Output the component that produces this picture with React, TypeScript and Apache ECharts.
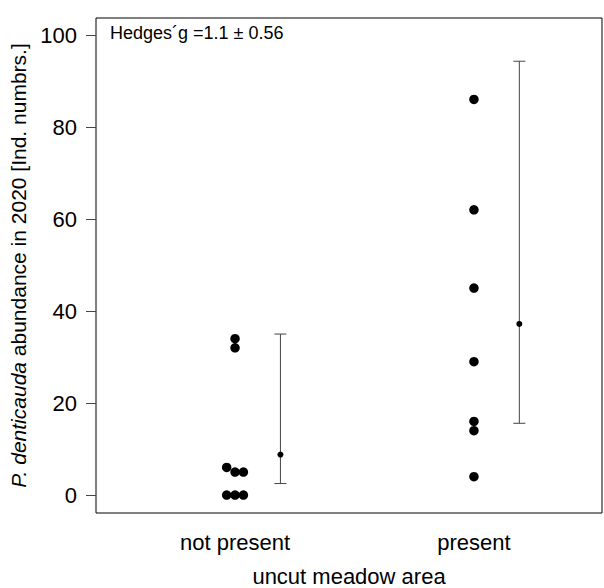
import React, { useEffect, useRef } from "react";
import * as echarts from "echarts";

const categories = ["not present", "present"];
const notPresentValues = [34, 32, 6, 5, 5, 0, 0, 0];
const notPresentOffsets = [0, 0, -0.035, 0, 0.035, -0.035, 0, 0.035];
const presentValues = [86, 62, 45, 29, 16, 14, 4];
const presentOffsets = [0, 0, 0, 0, 0, 0, 0];
const meanValues = [8.8, 37.2];
const lowerValues = [2.5, 15.6];
const upperValues = [35, 94.3];
const errorBarOffset = 0.19;
const yTicks = [0, 20, 40, 60, 80, 100];
const hedgesText = "Hedges´g =1.1 ± 0.56";

const FONT = "'Liberation Sans', Arial, Helvetica, sans-serif";

export default function App() {
  const ref = useRef<HTMLDivElement>(null);
  useEffect(() => {
    if (!ref.current) return;
    const chart = echarts.init(ref.current, undefined, { renderer: "svg" });
    const pointData: number[][] = [];
    notPresentValues.forEach((v, i) => pointData.push([1 + notPresentOffsets[i], v]));
    presentValues.forEach((v, i) => pointData.push([2 + presentOffsets[i], v]));
    const barData = meanValues.map((m, i) => [i + 1 + errorBarOffset, lowerValues[i], upperValues[i]]);
    const meanData = meanValues.map((m, i) => [i + 1 + errorBarOffset, m]);

    chart.setOption({
      animation: false,
      backgroundColor: "#fff",
      grid: {
        left: 96,
        top: 18,
        width: 506,
        height: 495,
        show: true,
        borderColor: "#000",
        borderWidth: 1,
        backgroundColor: "transparent",
        containLabel: false,
        outerBoundsMode: "none",
      },
      xAxis: {
        type: "value",
        min: 0.418,
        max: 2.536,
        axisLine: { show: false },
        axisTick: { show: false },
        splitLine: { show: false },
        axisLabel: {
          customValues: [1, 2],
          formatter: (v: number) => categories[Math.round(v) - 1] ?? "",
          fontSize: 22,
          fontFamily: FONT,
          color: "#000",
          margin: 18,
        },
        name: "uncut meadow area",
        nameLocation: "middle",
        nameGap: 52,
        nameTextStyle: { fontSize: 22, fontFamily: FONT, color: "#000" },
      },
      yAxis: {
        type: "value",
        min: -3.9,
        max: 103.7,
        axisLine: { show: false },
        splitLine: { show: false },
        axisTick: {
          show: true,
          customValues: yTicks,
          length: 10,
          lineStyle: { color: "#444", width: 1 },
        },
        axisLabel: {
          customValues: yTicks,
          fontSize: 22,
          fontFamily: FONT,
          color: "#000",
          margin: 19,
        },
        name: "{i|P. denticauda} abundance in 2020 [Ind. numbrs.]",
        nameLocation: "middle",
        nameRotate: 90,
        nameGap: 62,
        nameTextStyle: {
          fontSize: 21,
          fontFamily: FONT,
          color: "#000",
          rich: {
            i: { fontStyle: "italic", fontSize: 21, fontFamily: FONT, color: "#000" },
          },
        },
      },
      graphic: [
        {
          type: "text",
          left: 110,
          top: 24,
          style: { text: hedgesText, fontSize: 18, fontFamily: FONT, fill: "#000" },
        },
      ],
      series: [
        {
          type: "custom",
          data: barData,
          renderItem: (params: any, api: any) => {
            const x = api.value(0);
            const lo = api.coord([x, api.value(1)]);
            const hi = api.coord([x, api.value(2)]);
            const style = { stroke: "#444", lineWidth: 1 };
            return {
              type: "group",
              children: [
                { type: "line", shape: { x1: lo[0], y1: lo[1], x2: hi[0], y2: hi[1] }, style },
                { type: "line", shape: { x1: lo[0] - 6, y1: lo[1], x2: lo[0] + 6, y2: lo[1] }, style },
                { type: "line", shape: { x1: hi[0] - 6, y1: hi[1], x2: hi[0] + 6, y2: hi[1] }, style },
              ],
            };
          },
          z: 2,
        },
        {
          type: "scatter",
          data: meanData,
          symbol: "circle",
          symbolSize: 6,
          itemStyle: { color: "#000", opacity: 1 },
          z: 3,
        },
        {
          type: "scatter",
          data: pointData,
          symbol: "circle",
          symbolSize: 9.5,
          itemStyle: { color: "#000", opacity: 1 },
          z: 3,
        },
      ],
    });
    return () => chart.dispose();
  }, []);
  return (
    <div
      ref={ref}
      style={{ position: "fixed", left: 0, top: 0, width: 604, height: 588 }}
    />
  );
}
